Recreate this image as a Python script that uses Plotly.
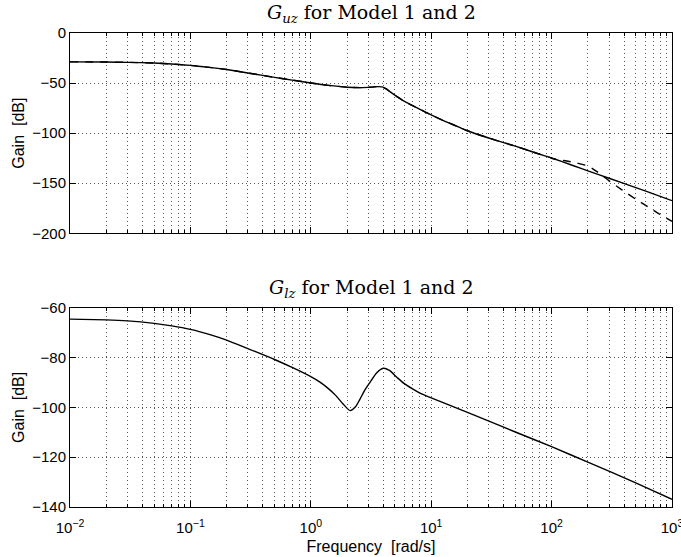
import plotly.graph_objects as go

# ---- frequency response data (rad/s, dB) ----
# G_uz, model 1 (solid)
guz1_w = [0.01, 0.02, 0.03, 0.05, 0.07, 0.1, 0.15, 0.2, 0.3, 0.5, 0.7, 1.0, 1.4,
          2.0, 2.6, 3.2, 3.6, 3.9, 4.2, 4.6, 5.2, 6.0, 7.0, 8.0, 10.0, 12.0,
          14.0, 17.0, 20.0, 30.0, 50.0, 70.0, 100.0, 150.0, 200.0, 300.0,
          500.0, 700.0, 1000.0]
guz1_db = [-28.8, -29.0, -29.3, -30.0, -30.9, -32.3, -34.6, -36.5, -39.9, -44.3,
           -47.0, -49.9, -52.3, -54.1, -54.5, -54.0, -53.5, -53.8, -55.5, -59.0,
           -63.5, -68.3, -72.5, -76.0, -81.7, -86.2, -89.7, -94.0, -97.6,
           -104.8, -113.0, -118.8, -124.8, -132.3, -137.6, -145.0, -154.4,
           -160.6, -167.4]

# G_uz, model 2 (dashed) -- departs from model 1 above ~100 rad/s
guz2_w = [0.01, 0.02, 0.03, 0.05, 0.07, 0.1, 0.15, 0.2, 0.3, 0.5, 0.7, 1.0, 1.4,
          2.0, 2.6, 3.2, 3.6, 3.9, 4.2, 4.6, 5.2, 6.0, 7.0, 8.0, 10.0, 12.0,
          14.0, 17.0, 20.0, 30.0, 50.0, 70.0, 100.0, 130.0, 160.0, 190.0,
          215.0, 240.0, 270.0, 300.0, 350.0, 420.0, 500.0, 600.0, 750.0, 1000.0]
guz2_db = [-28.8, -29.0, -29.3, -30.0, -30.9, -32.3, -34.6, -36.5, -39.9, -44.3,
           -47.0, -49.9, -52.3, -54.1, -54.5, -54.0, -53.5, -53.8, -55.5, -59.0,
           -63.5, -68.3, -72.5, -76.0, -81.7, -86.2, -89.7, -94.0, -97.6,
           -104.8, -113.0, -118.8, -125.0, -127.6, -129.7, -132.0, -134.8,
           -138.6, -143.3, -147.6, -153.3, -159.8, -165.9, -171.9, -179.3,
           -188.0]

# G_lz, models 1 and 2 coincide
glz_w = [0.01, 0.02, 0.03, 0.05, 0.07, 0.1, 0.15, 0.2, 0.3, 0.5, 0.7, 1.0, 1.2,
         1.4, 1.6, 1.85, 2.12, 2.35, 2.55, 2.8, 3.1, 3.5, 4.0, 4.5, 5.2, 5.9,
         7.0, 8.0, 10.0, 20.0, 50.0, 100.0, 200.0, 500.0, 1000.0]
glz_db = [-64.6, -64.9, -65.3, -66.3, -67.3, -68.7, -71.0, -73.0, -76.4, -80.8,
          -84.0, -87.7, -90.0, -92.5, -95.1, -98.6, -101.3, -99.8, -96.9, -93.2,
          -90.0, -86.3, -84.3, -85.2, -88.0, -90.3, -92.6, -94.2, -96.2, -102.0,
          -109.9, -115.8, -122.0, -130.3, -136.9]

# ---- axis ticks ----
x_tickvals = [1e-2, 1e-1, 1e0, 1e1, 1e2, 1e3]
x_ticktext = ["10<sup>\u22122</sup>", "10<sup>\u22121</sup>", "10<sup>0</sup>",
              "10<sup>1</sup>", "10<sup>2</sup>", "10<sup>3</sup>"]
x_minor = [m * 10.0 ** e for e in range(-2, 3) for m in range(2, 10)]
y1_tickvals = [-200, -150, -100, -50, 0]
y2_tickvals = [-140, -120, -100, -80, -60]

SANS = "Liberation Sans, Arial, Helvetica, sans-serif"
TICK_FONT = dict(family=SANS, size=15, color="black")
LABEL_FONT = dict(family=SANS, size=16, color="black")
TITLE_FONT = dict(family="DejaVu Serif, Liberation Serif, serif", size=19, color="black")
GRID = dict(gridcolor="#555555", gridwidth=1, griddash="1px,3px")

fig = go.Figure()
line_solid = dict(color="black", width=1.4, shape="spline", smoothing=0.6)
line_dash = dict(color="black", width=1.4, shape="spline", smoothing=0.6, dash="8px,7px")

fig.add_trace(go.Scatter(x=guz1_w, y=guz1_db, mode="lines", line=line_solid,
                         xaxis="x", yaxis="y", name="Model 1"))
fig.add_trace(go.Scatter(x=guz2_w, y=guz2_db, mode="lines", line=line_dash,
                         xaxis="x", yaxis="y", name="Model 2"))
fig.add_trace(go.Scatter(x=glz_w, y=glz_db, mode="lines", line=line_solid,
                         xaxis="x2", yaxis="y2", name="Model 1/2"))


def xaxis(anchor, labels):
    return dict(
        type="log", range=[-2, 3], domain=[0, 1], anchor=anchor, automargin=False,
        tickmode="array", tickvals=x_tickvals, ticktext=x_ticktext,
        showticklabels=labels, tickfont=TICK_FONT, ticklabelstandoff=7,
        ticklabeloverflow="allow",
        ticks="inside", ticklen=6, tickcolor="black",
        showline=True, linecolor="black", linewidth=1, mirror="ticks",
        showgrid=True, **GRID, zeroline=False,
        minor=dict(tickmode="array", tickvals=x_minor, ticks="inside", ticklen=3,
                   tickcolor="black", showgrid=True, **GRID),
    )


def yaxis(anchor, domain, rng, vals):
    return dict(
        range=rng, domain=domain, anchor=anchor, automargin=False,
        tickmode="array", tickvals=vals, tickfont=TICK_FONT,
        ticks="inside", ticklen=6, tickcolor="black",
        showline=True, linecolor="black", linewidth=1, mirror="ticks",
        showgrid=True, **GRID, zeroline=False,
        title=dict(text="Gain \u00a0[dB]", font=LABEL_FONT, standoff=3),
    )


top_dom = [0.5774, 1.0]
bot_dom = [0.0, 0.4205]

x2 = xaxis("y2", True)
x2["title"] = dict(text="Frequency \u00a0[rad/s]", font=LABEL_FONT, standoff=5)

fig.update_layout(
    width=681, height=557,
    margin=dict(l=70, r=9, t=33, b=50, autoexpand=False),
    paper_bgcolor="white", plot_bgcolor="white",
    showlegend=False,
    xaxis=xaxis("y", False),
    yaxis=yaxis("x", top_dom, [-200, 0], y1_tickvals),
    xaxis2=x2,
    yaxis2=yaxis("x2", bot_dom, [-140, -60], y2_tickvals),
    annotations=[
        dict(text="<i>G</i><sub><i>uz</i></sub> for Model 1 and 2",
             xref="paper", yref="paper", x=0.5, y=top_dom[1],
             xanchor="center", yanchor="bottom", yshift=5, showarrow=False,
             font=TITLE_FONT),
        dict(text="<i>G</i><sub><i>lz</i></sub> for Model 1 and 2",
             xref="paper", yref="paper", x=0.5, y=bot_dom[1],
             xanchor="center", yanchor="bottom", yshift=5, showarrow=False,
             font=TITLE_FONT),
    ],
)

fig.write_html("out.html")
